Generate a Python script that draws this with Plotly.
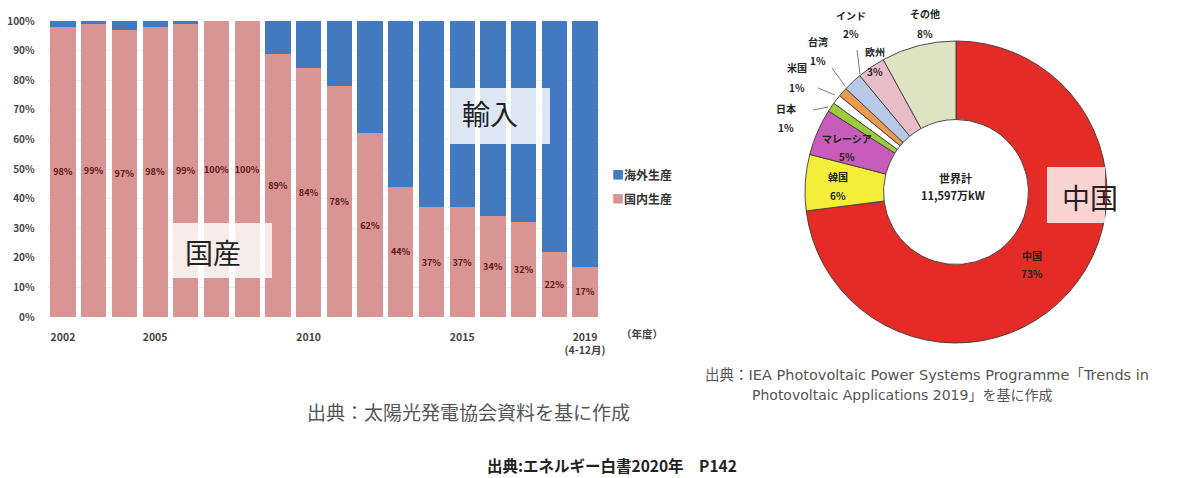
import plotly.graph_objects as go

W, H = 1188, 478
FONT = "Noto Sans CJK JP"
WIDE = "DejaVu Sans, Noto Sans CJK JP"

# ---- data: bar chart (domestic vs overseas production share) ----
years = [2002, 2003, 2004, 2005, 2006, 2007, 2008, 2009, 2010,
         2011, 2012, 2013, 2014, 2015, 2016, 2017, 2018, 2019]
domestic = [98, 99, 97, 98, 99, 100, 100, 89, 84, 78, 62, 44, 37, 37, 34, 32, 22, 17]
overseas = [100 - d for d in domestic]
year_ticks = [2002, 2005, 2010, 2015, 2019]
year_tick_text = ["2002", "2005", "2010", "2015", "2019<br>(4-12月)"]
pct_ticks = [0, 10, 20, 30, 40, 50, 60, 70, 80, 90, 100]

# ---- data: donut (world shipments by country) ----
countries = ["中国", "韓国", "マレーシア", "日本", "米国", "台湾", "インド", "欧州", "その他"]
shares = [73, 6, 5, 1, 1, 1, 2, 3, 8]
slice_colors = ["#E52B25", "#F3EE3A", "#C85CBA", "#9CCB3C", "#FFFFFF",
                "#EE9A4E", "#B7C9E6", "#E9BCC9", "#DEE3C4"]

PINK = "#D99593"
BLUE = "#4279BF"


def px(x):
    return x / W


def py(y):
    return 1 - y / H


fig = go.Figure()

fig.add_trace(go.Bar(
    x=years, y=domestic, name="国内生産", marker=dict(color=PINK, line=dict(width=0)),
    text=[f"<b>{d}%</b>" for d in domestic], textposition="inside", insidetextanchor="middle",
    textangle=0, constraintext="none",
    textfont=dict(family=FONT, size=9, color="#5a1616"),
    xaxis="x", yaxis="y", showlegend=False, hoverinfo="skip"))
fig.add_trace(go.Bar(
    x=years, y=overseas, name="海外生産", marker=dict(color=BLUE, line=dict(width=0)),
    xaxis="x", yaxis="y", showlegend=False, hoverinfo="skip"))

fig.add_trace(go.Pie(
    labels=countries, values=shares, sort=False, direction="clockwise", rotation=0,
    hole=0.48, marker=dict(colors=slice_colors, line=dict(color="#3a3a3a", width=0.9)),
    textinfo="none", showlegend=False, hoverinfo="skip", automargin=False,
    domain=dict(x=[px(805), px(1107)], y=[py(343), py(41)])))

fig.update_layout(
    width=W, height=H, autosize=False, margin=dict(l=0, r=0, t=0, b=0, pad=0),
    paper_bgcolor="white", plot_bgcolor="white",
    barmode="stack", bargap=0.18,
    font=dict(family=FONT, color="#333"),
    xaxis=dict(domain=[px(47.6), px(600.4)], range=[2001.5, 2019.5],
               tickvals=year_ticks, ticktext=[f"<b>{t}</b>" for t in year_tick_text],
               ticks="outside", ticklen=10, tickcolor="rgba(0,0,0,0)", automargin=False,
               tickfont=dict(family=FONT, size=10.5, color="#444"),
               showgrid=False, zeroline=False, showline=False, fixedrange=True),
    yaxis=dict(domain=[py(317), py(21)], range=[0, 100], automargin=False,
               tickvals=pct_ticks, ticktext=[f"<b>{v}%</b>" for v in pct_ticks],
               ticks="outside", ticklen=10, tickcolor="rgba(0,0,0,0)",
               tickfont=dict(family=FONT, size=10, color="#444"),
               showgrid=True, gridcolor="#EDEDED", zeroline=False, showline=False,
               fixedrange=True),
)

shapes = []
ann = []

# white checkered-like boxes
shapes.append(dict(type="rect", xref="paper", yref="paper", x0=px(170), x1=px(272),
                   y0=py(278), y1=py(223), fillcolor="rgba(255,255,255,0.82)",
                   line=dict(width=0), layer="above"))
shapes.append(dict(type="rect", xref="paper", yref="paper", x0=px(448), x1=px(550),
                   y0=py(144), y1=py(88), fillcolor="rgba(255,255,255,0.82)",
                   line=dict(width=0), layer="above"))
shapes.append(dict(type="rect", xref="paper", yref="paper", x0=px(1047), x1=px(1105),
                   y0=py(223), y1=py(167), fillcolor="rgba(255,255,255,0.8)",
                   line=dict(width=0), layer="above"))

ann.append(dict(text="国産", x=px(213), y=py(252), font=dict(size=28, color="#222")))
ann.append(dict(text="輸入", x=px(490), y=py(113), font=dict(size=28, color="#222")))
ann.append(dict(text="中国", x=px(1090), y=py(197), font=dict(size=28, color="#222")))

# legend (manual)
ann.append(dict(text=f"<span style='color:{BLUE}'>■</span><b>海外生産</b>", x=px(610), y=py(174),
                xanchor="left", font=dict(size=12, color="#333")))
ann.append(dict(text=f"<span style='color:{PINK}'>■</span><b>国内生産</b>", x=px(610), y=py(198),
                xanchor="left", font=dict(size=12, color="#333")))
ann.append(dict(text="<b>（年度）</b>", x=px(642), y=py(333), font=dict(size=10.5, color="#444")))

# donut labels (name, percent on separate lines)
lab = dict(size=10, color="#222")
donut_labels = [
    ("中国", "73%", 1032, 255, 273), ("韓国", "6%", 838, 176, 195),
    ("マレーシア", "5%", 847, 138, 156), ("日本", "1%", 786, 108, 127),
    ("米国", "1%", 797, 67, 87), ("台湾", "1%", 818, 42, 60),
    ("インド", "2%", 851, 15, 33), ("欧州", "3%", 875, 52, 72),
    ("その他", "8%", 925, 13, 33),
]
for name, pct, x, y1, y2 in donut_labels:
    ann.append(dict(text=f"<b>{name}</b>", x=px(x), y=py(y1), font=lab))
    ann.append(dict(text=f"<b>{pct}</b>", x=px(x), y=py(y2), font=lab))

for x0, y0, x1, y1 in [(857, 50, 860, 74), (832, 68, 845, 86), (818, 88, 835, 95),
                       (813, 110, 828, 107)]:
    shapes.append(dict(type="line", xref="paper", yref="paper", x0=px(x0), y0=py(y0),
                       x1=px(x1), y1=py(y1), line=dict(color="#555", width=0.8)))

ann.append(dict(text="<b>世界計</b>", x=px(955), y=py(178), font=dict(size=11, color="#222")))
ann.append(dict(text="<b>11,597万kW</b>", x=px(953), y=py(195), font=dict(size=11, color="#222")))

# sources
ann.append(dict(text="出典：IEA Photovoltaic Power Systems Programme「Trends in",
                x=px(703), y=py(375), xanchor="left", font=dict(family=WIDE, size=14.5, color="#555")))
ann.append(dict(text="Photovoltaic Applications 2019」を基に作成",
                x=px(750), y=py(395), xanchor="left", font=dict(family=WIDE, size=14, color="#555")))
ann.append(dict(text="出典：太陽光発電協会資料を基に作成", x=px(305), y=py(411),
                xanchor="left", font=dict(size=19, color="#555")))
ann.append(dict(text="<b>出典:エネルギー白書2020年　P142</b>", x=px(485), y=py(465),
                xanchor="left", font=dict(size=15.5, color="#222")))

for a in ann:
    a.setdefault("xref", "paper")
    a.setdefault("yref", "paper")
    a.setdefault("showarrow", False)
    a.setdefault("xanchor", "center")
    a.setdefault("yanchor", "middle")

fig.update_layout(shapes=shapes, annotations=ann)
fig.write_html(
    "out.html",
    config={"displayModeBar": False},
    post_script="document.body.style.margin='0';document.body.style.padding='0';"
                "document.documentElement.style.overflow='hidden';",
)
